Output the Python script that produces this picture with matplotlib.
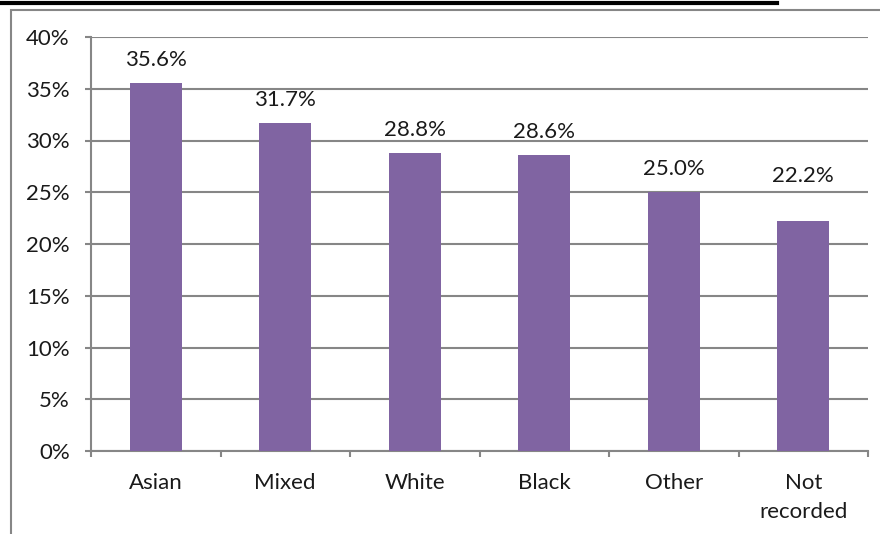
import matplotlib.pyplot as plt
import matplotlib.patches as patches
from matplotlib.lines import Line2D
from matplotlib.ticker import MultipleLocator, FuncFormatter

# rates by ethnic group, in percent
groups = ['Asian', 'Mixed', 'White', 'Black', 'Other', 'Not\nrecorded']
rates = [35.6, 31.7, 28.8, 28.6, 25.0, 22.2]

BAR_COLOR = '#8064A2'
GRID_COLOR = '#868686'
TEXT_COLOR = '#1a1a1a'
FS = 16
W, H = 880, 534

# label lift above each bar (points); the last one sits clear of the gridline
label_lift = [12, 12, 12, 12, 12.5, 28]

plt.rcParams['font.family'] = ['Lato', 'DejaVu Sans']

fig = plt.figure(figsize=(W / 100, H / 100), dpi=100)
fig.patch.set_facecolor('white')

# plot area in pixel terms
x0, x1, y_top, y_bot = 91, 868, 37, 451
ax = fig.add_axes([x0 / W, (H - y_bot) / H, (x1 - x0) / W, (y_bot - y_top) / H])

xs = list(range(len(groups)))
ax.bar(xs, rates, width=0.4, color=BAR_COLOR, zorder=3)
for x, v, lift in zip(xs, rates, label_lift):
    ax.annotate(f'{v:.1f}%', (x, v), xytext=(0, lift), textcoords='offset points',
                ha='center', va='baseline', fontsize=FS, color=TEXT_COLOR)

ax.set_xlim(-0.5, len(groups) - 0.5)
ax.set_ylim(0, 40)
ax.yaxis.set_major_locator(MultipleLocator(5))
ax.yaxis.set_major_formatter(FuncFormatter(lambda v, p: f'{v:.0f}%'))
ax.grid(axis='y', color=GRID_COLOR, linewidth=1.5, zorder=0)
ax.set_axisbelow(True)

ax.set_xticks(xs)
ax.set_xticklabels(groups, fontsize=FS, color=TEXT_COLOR, linespacing=1.55)
ax.set_xticks([i + 0.5 for i in range(-1, len(groups))], minor=True)
ax.tick_params(axis='x', which='major', length=0, pad=16)
ax.tick_params(axis='x', which='minor', length=4.3, width=1.5, color=GRID_COLOR, direction='out')
ax.tick_params(axis='y', length=4.3, width=1.5, color=GRID_COLOR, pad=11, labelsize=FS,
               labelcolor=TEXT_COLOR)

for s in ['top', 'right']:
    ax.spines[s].set_visible(False)
for s in ['left', 'bottom']:
    ax.spines[s].set_color(GRID_COLOR)
    ax.spines[s].set_linewidth(1.5)

# chart frame and the rule above it
fig.patches.append(patches.Rectangle((10.5 / W, -0.1), 1.0, (H - 10.5) / H + 0.1,
                                     transform=fig.transFigure, fill=False,
                                     edgecolor=GRID_COLOR, linewidth=1.5))
fig.lines.append(Line2D([0, 777 / W], [1 - 2.5 / H, 1 - 2.5 / H], transform=fig.transFigure,
                        color='black', linewidth=3))

fig.savefig('out.png', dpi=100)
